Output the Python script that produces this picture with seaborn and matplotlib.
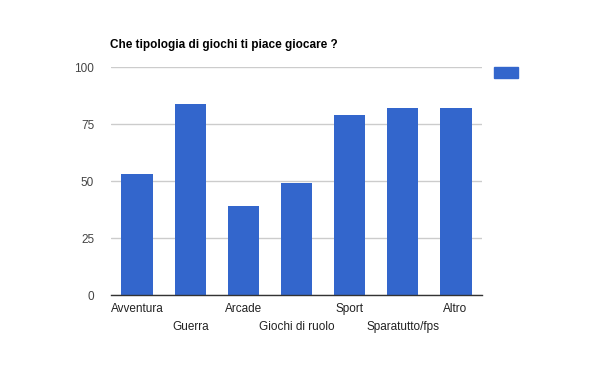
import matplotlib
matplotlib.use('Agg')
import matplotlib.pyplot as plt
import matplotlib.patches as mpatches
import pandas as pd
import seaborn as sns

categories = ['Avventura', 'Guerra', 'Arcade', 'Giochi di ruolo', 'Sport', 'Sparatutto/fps', 'Altro']
values = [53, 84, 39, 49, 79, 82, 82]
y_ticks = [0, 25, 50, 75, 100]
title = 'Che tipologia di giochi ti piace giocare ?'

BLUE = '#3366cc'

sns.set_theme(style='white')
plt.rcParams['font.family'] = ['Liberation Sans', 'DejaVu Sans']

df = pd.DataFrame({'categoria': categories, 'valore': values})

fig = plt.figure(figsize=(5.93, 3.67), dpi=100)
ax = fig.add_axes([0.187, 0.196, 0.626, 0.621])

sns.barplot(data=df, x='categoria', y='valore', color=BLUE, saturation=1,
            width=0.6, linewidth=0, ax=ax, zorder=3)

ax.set_ylim(0, 100)
ax.set_xlim(-0.5, len(categories) - 0.5)
ax.set_yticks(y_ticks)
ax.set_yticklabels([str(t) for t in y_ticks], fontsize=8.5, color='#444444')
ax.yaxis.grid(True, color='#cccccc', linewidth=1, zorder=0)
ax.set_axisbelow(True)

# alternate labels on two rows like the original
labels = [c if i % 2 == 0 else '\n' + c for i, c in enumerate(categories)]
ax.set_xticks(range(len(categories)))
ax.set_xticklabels(labels, fontsize=8.5, color='#222222', linespacing=1.6)
ax.tick_params(axis='y', length=0, pad=12)
ax.tick_params(axis='x', length=0, pad=6)

ax.set_xlabel('')
ax.set_ylabel('')
for side in ['top', 'right', 'left']:
    ax.spines[side].set_visible(False)
ax.spines['bottom'].set_color('#333333')
ax.spines['bottom'].set_linewidth(1)
ax.spines['bottom'].set_zorder(4)

fig.text(0.186, 0.87, title, fontsize=8.5, fontweight='bold', color='black')

# legend swatch without text
fig.patches.append(mpatches.Rectangle((0.833, 0.787), 0.040, 0.030,
                                      transform=fig.transFigure, color=BLUE, figure=fig))

fig.savefig('out.png', dpi=100)
